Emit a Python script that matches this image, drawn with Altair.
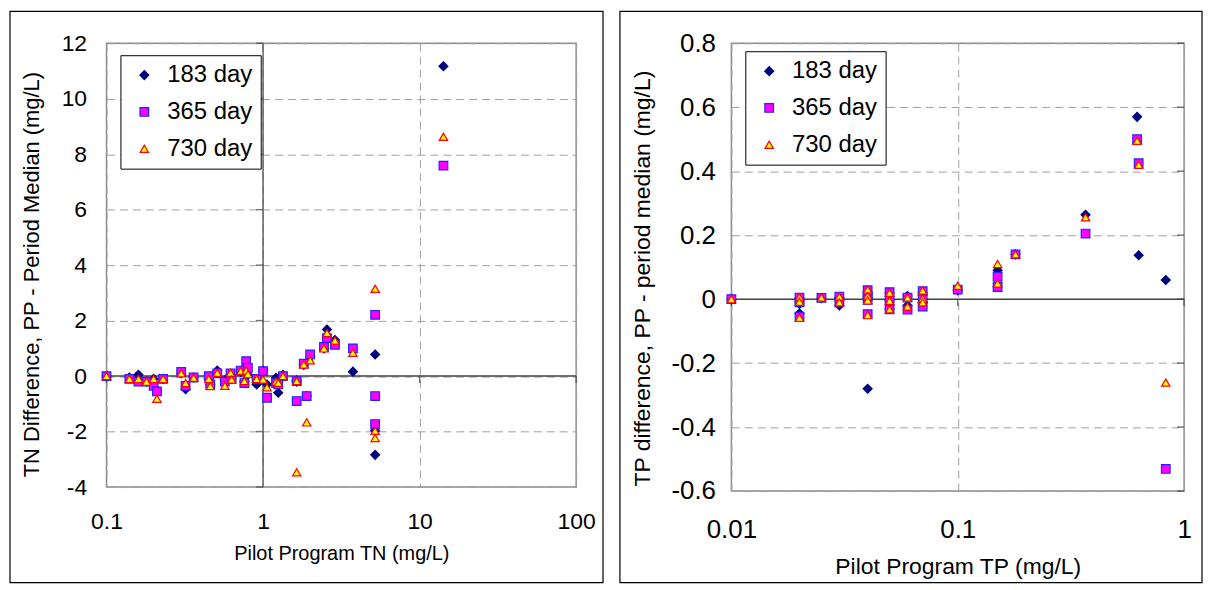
import altair as alt
import pandas as pd

SERIES = ["183 day", "365 day", "730 day"]
SHAPES = ["diamond", "square", "triangle-up"]
FILLS = ["#000080", "#FF00FF", "#FFFF00"]
STROKES = ["#000080", "#2222FF", "#FF0000"]
SIZES = [80, 70, 95]

# ---- TN panel data (one entry per site) ----
TN_X = [0.10, 0.14, 0.16, 0.18, 0.20, 0.21, 0.23, 0.30, 0.32, 0.36, 0.45, 0.46, 0.51,
        0.57, 0.62, 0.63, 0.72, 0.76, 0.78, 0.80, 0.91, 1.00, 1.06, 1.21, 1.25, 1.34,
        1.64, 1.64, 1.82, 1.90, 2.00, 2.45, 2.56, 2.88, 3.75, 5.20, 5.20, 5.20, 14.2]
TN_183 = [0, -0.05, 0.05, -0.2, -0.1, -0.5, -0.1, 0.1, -0.47, -0.05, -0.1, -0.3, 0.2,
          -0.15, 0.05, -0.1, 0.15, -0.2, 0.3, 0.05, -0.3, 0.2, -0.3, -0.06, -0.6, 0.05,
          -0.2, -0.15, 0.4, -0.72, 0.7, 1.0, 1.68, 1.3, 0.16, 0.78, -2.84, -1.97, 11.17]
TN_365 = [0, -0.1, -0.2, -0.2, -0.35, -0.55, -0.1, 0.15, -0.35, -0.05, 0.0, -0.3, 0.1,
          -0.2, 0.1, -0.1, 0.2, -0.25, 0.54, 0.3, -0.1, 0.18, -0.78, -0.24, -0.3, 0.0,
          -0.9, -0.18, 0.45, -0.72, 0.78, 1.05, 1.37, 1.13, 1.0, 2.21, -1.73, -0.72, 7.59]
TN_730 = [0, -0.1, -0.1, -0.2, -0.1, -0.82, -0.1, 0.1, -0.25, -0.06, -0.1, -0.36, 0.12,
          -0.35, 0.12, -0.12, 0.18, -0.18, 0.2, 0.07, -0.1, -0.12, -0.4, -0.2, -0.24, 0.0,
          -3.47, -0.18, 0.42, -1.67, 0.57, 1.0, 1.55, 1.28, 0.84, 3.15, -2.23, -1.97, 8.63]

# ---- TP panel data ----
TP_X = [0.01, 0.02, 0.02, 0.02, 0.025, 0.03, 0.03, 0.04, 0.04, 0.04, 0.04, 0.05, 0.05,
        0.05, 0.06, 0.06, 0.07, 0.07, 0.07, 0.10, 0.15, 0.15, 0.18, 0.367, 0.62, 0.63, 0.83]
TP_183 = [0, 0.003, -0.045, -0.015, 0.003, 0.005, -0.02, 0.02, 0.005, -0.28, 0.0, 0.02,
          -0.005, -0.03, 0.01, -0.02, 0.02, 0.0, -0.01, 0.027, 0.09, 0.04, 0.14, 0.264,
          0.57, 0.137, 0.06]
TP_365 = [0, 0.005, -0.055, -0.01, 0.004, 0.008, -0.01, 0.028, 0.01, -0.047, -0.002, 0.022,
          -0.005, -0.032, 0.005, -0.033, 0.025, 0.0, -0.023, 0.03, 0.07, 0.038, 0.14, 0.205,
          0.5, 0.425, -0.531]
TP_730 = [0, 0.006, -0.058, -0.008, 0.005, 0.008, -0.01, 0.03, 0.01, -0.05, -0.004, 0.02,
          -0.005, -0.032, 0.005, -0.023, 0.027, 0.002, -0.01, 0.042, 0.11, 0.049, 0.14, 0.256,
          0.495, 0.42, -0.261]

TN_XTICKS = [0.1, 1, 10, 100]
TN_YTICKS = [-4, -2, 0, 2, 4, 6, 8, 10, 12]
TP_XTICKS = [0.01, 0.1, 1]
TP_YTICKS = [-0.6, -0.4, -0.2, 0, 0.2, 0.4, 0.6, 0.8]

FONT = "Liberation Sans"


def long_df(xs, a, b, c):
    rows = []
    for name, vals in zip(SERIES, [a, b, c]):
        for x, v in zip(xs, vals):
            rows.append({"x": x, "y": v, "series": name})
    return pd.DataFrame(rows)


def panel(df, xdom, xvals, ydom, yvals, w, h, xtitle, ytitle, frame,
          xlab_pad, xtitle_y, ylab_pad, ytitle_x, ytitle_y, ytick_x, cross_line,
          leg_x, leg_y, tick_fs, xtitle_fs, ytitle_fs):
    X = alt.X("x:Q",
              scale=alt.Scale(type="log", domain=xdom, nice=False),
              axis=alt.Axis(values=xvals, labelExpr="'' + datum.value", title=xtitle,
                            grid=True, gridColor="#a0a0a0", gridDash=[8, 5], gridWidth=1,
                            ticks=False, tickSize=0, domain=False, labelFlush=False,
                            labelOverlap=False, labelFont=FONT, labelFontSize=tick_fs,
                            labelColor="black", labelPadding=xlab_pad,
                            titleFont=FONT, titleFontSize=xtitle_fs, titleFontWeight="normal",
                            titleColor="black", titleY=xtitle_y, titleBaseline="middle"))
    Y = alt.Y("y:Q",
              scale=alt.Scale(domain=ydom, nice=False, zero=False),
              axis=alt.Axis(values=yvals, labelExpr="'' + datum.value", title=ytitle,
                            grid=True, gridColor="#a0a0a0", gridDash=[8, 5], gridWidth=1,
                            ticks=False, tickSize=0, domain=False, labelFlush=False,
                            labelOverlap=False, labelFont=FONT, labelFontSize=tick_fs,
                            labelColor="black", labelPadding=ylab_pad,
                            titleFont=FONT, titleFontSize=ytitle_fs, titleFontWeight="normal",
                            titleColor="black", titleX=ytitle_x, titleY=ytitle_y,
                            titleAngle=-90, titleAlign="center", titleBaseline="middle"))

    L, T, R, B = frame
    frame_layer = alt.Chart(pd.DataFrame({"a": [0]})).mark_rect(
        fill="white", fillOpacity=0, stroke="black", strokeWidth=1.2
    ).encode(x=alt.value(-L), x2=alt.value(w + R), y=alt.value(-T), y2=alt.value(h + B))

    zero = alt.Chart(pd.DataFrame({"y": [0]})).mark_rule(
        color="#404040", strokeWidth=1.5).encode(y=Y)

    yt = alt.Chart(pd.DataFrame({"x": [ytick_x] * len(yvals), "y": yvals})).mark_tick(
        orient="horizontal", size=7, thickness=1.5, color="#404040", xOffset=-3.5
    ).encode(x=X, y=Y)
    xt = alt.Chart(pd.DataFrame({"x": xvals, "y": [0] * len(xvals)})).mark_tick(
        orient="vertical", size=7, thickness=1.5, color="#404040", yOffset=3.5
    ).encode(x=X, y=Y)

    pts = alt.Chart(df).mark_point(filled=True, opacity=1, strokeWidth=1.2).encode(
        x=X, y=Y,
        shape=alt.Shape("series:N", scale=alt.Scale(domain=SERIES, range=SHAPES),
                        legend=alt.Legend(orient="none", legendX=leg_x, legendY=leg_y,
                                          title=None, labelFont=FONT, labelFontSize=24,
                                          labelColor="black", padding=8, symbolOffset=4,
                                          labelOffset=11, rowPadding=13,
                                          strokeColor="black", fillColor="white",
                                          symbolStrokeWidth=1.2)),
        fill=alt.Fill("series:N", scale=alt.Scale(domain=SERIES, range=FILLS)),
        stroke=alt.Stroke("series:N", scale=alt.Scale(domain=SERIES, range=STROKES)),
        size=alt.Size("series:N", scale=alt.Scale(domain=SERIES, range=SIZES)),
    )

    layers = [frame_layer, zero]
    if cross_line is not None:
        vline = alt.Chart(pd.DataFrame({"x": [cross_line]})).mark_rule(
            color="#606060", strokeWidth=1.5).encode(x=X)
        layers.append(vline)
    layers += [yt, xt, pts]
    return alt.layer(*layers).properties(width=w, height=h)


tn_df = long_df(TN_X, TN_183, TN_365, TN_730)
tp_df = long_df(TP_X, TP_183, TP_365, TP_730)

left = panel(tn_df, [0.1, 100], TN_XTICKS, [-4, 12], TN_YTICKS, 472, 446,
             "Pilot Program TN (mg/L)", "TN Difference, PP - Period Median (mg/L)",
             frame=(97, 32, 27, 96), xlab_pad=24, xtitle_y=67, ylab_pad=20,
             ytitle_x=-75, ytitle_y=232, ytick_x=1, cross_line=1, leg_x=14, leg_y=12,
             tick_fs=23, xtitle_fs=20, ytitle_fs=22)

right = panel(tp_df, [0.01, 1], TP_XTICKS, [-0.6, 0.8], TP_YTICKS, 455, 450,
              "Pilot Program TP (mg/L)", "TP difference, PP - period median (mg/L)",
              frame=(112, 32, 18, 92), xlab_pad=26, xtitle_y=76, ylab_pad=16,
              ytitle_x=-89, ytitle_y=236, ytick_x=1, cross_line=None, leg_x=14, leg_y=8,
              tick_fs=26, xtitle_fs=23, ytitle_fs=23)

chart = alt.hconcat(left, right, spacing=13).resolve_scale(
    shape="independent", fill="independent", stroke="independent", size="independent"
).properties(padding=0).configure(font=FONT).configure_view(
    stroke="#8c8c8c", strokeWidth=1.5)

chart.save("out.html", embed_options={"renderer": "svg", "actions": False})
